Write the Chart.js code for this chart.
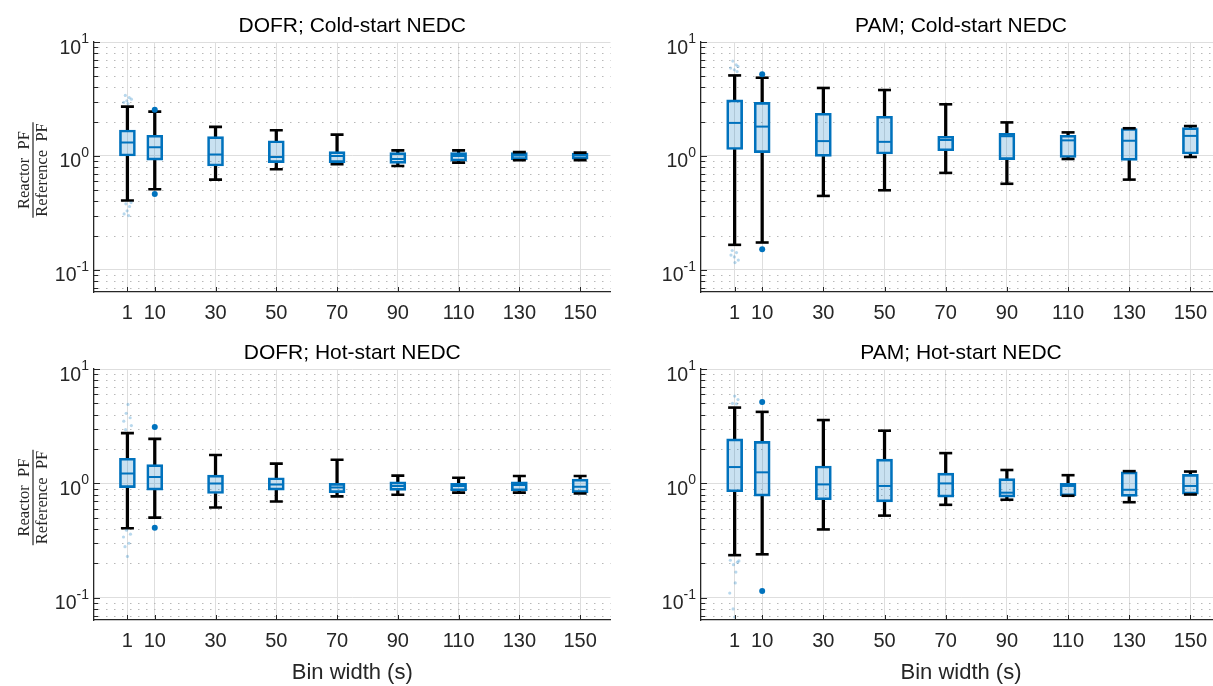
<!DOCTYPE html>
<html>
<head>
<meta charset="utf-8">
<script src="https://cdn.jsdelivr.net/npm/chart.js@4.4.0/dist/chart.umd.min.js"></script>
<style>
  html, body { margin: 0; padding: 0; background: #fff; overflow: hidden; }
  body { width: 1213px; height: 686px; position: relative; }
  canvas { position: absolute; }
</style>
</head>
<body>
<canvas id="dofrCold" width="620" height="345" style="left:0;top:0"></canvas>
<canvas id="pamCold" width="634" height="345" style="left:606px;top:0"></canvas>
<canvas id="dofrHot" width="620" height="341" style="left:0;top:345px"></canvas>
<canvas id="pamHot" width="634" height="341" style="left:606px;top:345px"></canvas>
<script>
// bin widths (s) on the x axis
const binWidths = [1, 10, 30, 50, 70, 90, 110, 130, 150];
const yDecades = [0.1, 1, 10];

// DOFR, cold-start NEDC
const dofrColdLow    = [0.406, 0.51, 0.62, 0.764, 0.845, 0.817, 0.874, 0.916, 0.92];
const dofrColdQ1     = [1.00, 0.92, 0.817, 0.874, 0.874, 0.86, 0.90, 0.93, 0.935];
const dofrColdMedian = [1.31, 1.19, 1.03, 0.98, 1.00, 0.94, 1.00, 1.01, 1.01];
const dofrColdQ3     = [1.69, 1.52, 1.48, 1.36, 1.09, 1.07, 1.07, 1.07, 1.06];
const dofrColdHigh   = [2.71, 2.45, 1.80, 1.68, 1.54, 1.12, 1.12, 1.08, 1.07];
const dofrColdOutliers = [[10, 2.55], [10, 0.464]];
const dofrColdSpread = [[0.3, 3.40], [1.6, 3.25], [0.8, 3.05], [2.3, 3.15], [-0.2, 2.95], [1.2, 2.88],
                        [0.5, 0.38], [1.7, 0.36], [2.2, 0.39], [0.9, 0.33], [-0.1, 0.31], [1.4, 0.30]];

// PAM, cold-start NEDC
const pamColdLow    = [0.166, 0.174, 0.446, 0.50, 0.71, 0.57, 0.94, 0.62, 0.98];
const pamColdQ1     = [1.14, 1.07, 0.99, 1.04, 1.11, 0.93, 0.97, 0.916, 1.04];
const pamColdMedian = [1.95, 1.81, 1.35, 1.33, 1.38, 1.49, 1.37, 1.36, 1.50];
const pamColdQ3     = [3.11, 2.95, 2.37, 2.23, 1.49, 1.58, 1.52, 1.74, 1.77];
const pamColdHigh   = [5.09, 4.86, 3.95, 3.79, 2.84, 1.97, 1.61, 1.75, 1.83];
const pamColdOutliers = [[10, 5.2], [10, 0.152]];
const pamColdSpread = [[0.4, 6.8], [1.5, 6.3], [-0.3, 5.9], [2.1, 6.1], [0.9, 5.7], [1.8, 5.5],
                       [0.2, 0.148], [1.6, 0.142], [0.9, 0.13], [2.2, 0.122], [1.1, 0.116], [-0.2, 0.135]];

// DOFR, hot-start NEDC
const dofrHotLow    = [0.405, 0.502, 0.615, 0.695, 0.77, 0.795, 0.83, 0.83, 0.817];
const dofrHotQ1     = [0.92, 0.873, 0.817, 0.873, 0.83, 0.87, 0.86, 0.86, 0.83];
const dofrHotMedian = [1.22, 1.14, 1.00, 0.98, 0.92, 0.95, 0.95, 0.97, 0.935];
const dofrHotQ3     = [1.66, 1.46, 1.18, 1.12, 1.00, 1.03, 1.00, 1.03, 1.09];
const dofrHotHigh   = [2.75, 2.45, 1.77, 1.49, 1.61, 1.17, 1.12, 1.16, 1.16];
const dofrHotOutliers = [[10, 3.11], [10, 0.41]];
const dofrHotSpread = [[1.2, 4.9], [0.6, 4.1], [1.9, 3.75], [-0.2, 3.5], [2.3, 3.2], [0.4, 2.95],
                       [0.7, 0.39], [2.0, 0.36], [-0.3, 0.34], [1.5, 0.30], [0.2, 0.28], [1.0, 0.23]];

// PAM, hot-start NEDC
const pamHotLow    = [0.236, 0.24, 0.396, 0.523, 0.65, 0.72, 0.78, 0.685, 0.80];
const pamHotQ1     = [0.845, 0.774, 0.72, 0.69, 0.76, 0.76, 0.78, 0.77, 0.805];
const pamHotMedian = [1.39, 1.25, 0.98, 0.95, 1.00, 0.83, 0.95, 0.88, 0.95];
const pamHotQ3     = [2.45, 2.33, 1.42, 1.63, 1.23, 1.10, 1.00, 1.26, 1.20];
const pamHotHigh   = [4.60, 4.22, 3.58, 2.89, 1.84, 1.31, 1.18, 1.28, 1.27];
const pamHotOutliers = [[10, 5.16], [10, 0.1145]];
const pamHotSpread = [[1.0, 5.8], [2.1, 5.4], [0.3, 5.0], [1.6, 4.95],
                      [-0.4, 0.213], [1.9, 0.205], [0.6, 0.195], [2.4, 0.21], [1.4, 0.168],
                      [1.2, 0.135], [-0.6, 0.11], [0.5, 0.08], [1.0, 0.068]];

const SANS = '"Liberation Sans", Arial, sans-serif';
const SERIF = '"Liberation Serif", "Times New Roman", serif';
const BLUE = '#0072BD';
const AXIS = '#262626';

// minor dotted grid, inward ticks, superscript y labels, panel title, fraction y label
const decor = {
  id: 'decor',
  beforeDatasetsDraw(chart, args, o) {
    const {ctx, chartArea: a, scales: {y}} = chart;
    ctx.save();
    ctx.strokeStyle = '#b8b8b8';
    ctx.lineWidth = 1;
    ctx.setLineDash([1.5, 6.5]);
    for (const d of [0.01, 0.1, 1]) {
      for (let k = 2; k <= 9; k++) {
        const v = k * d;
        if (v < y.min || v > y.max) continue;
        const py = Math.round(y.getPixelForValue(v)) + 0.5;
        ctx.beginPath();
        ctx.moveTo(a.left + 4, py);
        ctx.lineTo(a.right, py);
        ctx.stroke();
      }
    }
    ctx.restore();
  },
  afterDraw(chart, args, o) {
    const {ctx, chartArea: a, scales: {x, y}} = chart;
    ctx.save();
    ctx.strokeStyle = AXIS;
    ctx.lineWidth = 1;
    // y ticks, pointing into the axes
    for (const d of [0.01, 0.1, 1, 10]) {
      for (let k = 1; k <= 9; k++) {
        const v = k * d;
        if (v < y.min || v > y.max + 1e-9) continue;
        const py = Math.round(y.getPixelForValue(v)) + 0.5;
        ctx.beginPath();
        ctx.moveTo(a.left, py);
        ctx.lineTo(a.left + (k === 1 ? 6 : 4), py);
        ctx.stroke();
      }
    }
    // x ticks
    binWidths.forEach(v => {
      const px = Math.round(x.getPixelForValue(v)) + 0.5;
      ctx.beginPath();
      ctx.moveTo(px, a.bottom);
      ctx.lineTo(px, a.bottom - 5);
      ctx.stroke();
    });
    // 10^n labels
    ctx.fillStyle = AXIS;
    ctx.textBaseline = 'alphabetic';
    yDecades.forEach(v => {
      const py = y.getPixelForValue(v);
      const exp = String(Math.round(Math.log10(v)));
      ctx.font = '14px ' + SANS;
      const ew = ctx.measureText(exp).width;
      const xe = a.left - 5 - ew;
      ctx.textAlign = 'left';
      ctx.fillText(exp, xe, py + 1);
      ctx.font = '19.5px ' + SANS;
      ctx.textAlign = 'right';
      ctx.fillText('10', xe, py + 11.5);
    });
    // panel title
    ctx.fillStyle = '#000';
    ctx.font = '21px ' + SANS;
    ctx.textAlign = 'center';
    ctx.fillText(o.title, (a.left + a.right) / 2, a.top - 10);
    // ratio label on the left-hand panels
    if (o.ratioLabel) {
      ctx.translate(33, (a.top + a.bottom) / 2 + 3);
      ctx.rotate(-Math.PI / 2);
      ctx.fillStyle = AXIS;
      ctx.font = '16.5px ' + SERIF;
      ctx.fillText('Reactor\u2002PF', 0, -4.5);
      ctx.fillText('Reference\u2002PF', 0, 14);
      const w = ctx.measureText('Reference\u2002PF').width + 2;
      ctx.fillRect(-w / 2, -0.6, w, 1.2);
    }
    ctx.restore();
  }
};

function pts(xs, ys) {
  return xs.map((x, i) => ({x: x, y: ys[i]}));
}

function boxPanel(id, s, o) {
  const caps = pts(binWidths, s.low).concat(pts(binWidths, s.high));
  new Chart(document.getElementById(id), {
    type: 'scatter',
    data: {
      datasets: [
        { data: s.outliers.map(p => ({x: p[0], y: p[1]})), pointRadius: 3,
          pointBackgroundColor: BLUE, pointBorderWidth: 0, order: 0 },
        { data: s.spread.map(p => ({x: p[0], y: p[1]})), pointRadius: 1.6,
          pointBackgroundColor: 'rgba(0,114,189,0.28)', pointBorderWidth: 0, order: 0 },
        { data: pts(binWidths, s.median), pointStyle: 'line', pointRadius: 7.5,
          pointBorderColor: BLUE, pointBorderWidth: 2, order: 1 },
        { data: caps, pointStyle: 'line', pointRadius: 6.5,
          pointBorderColor: '#000', pointBorderWidth: 2.6, order: 2 },
        { type: 'bar', data: binWidths.map((x, i) => ({x: x, y: [s.q1[i], s.q3[i]]})),
          barThickness: 16, grouped: false, borderSkipped: false, borderWidth: 2,
          borderColor: BLUE, backgroundColor: 'rgba(0,114,189,0.21)', order: 3 },
        { type: 'bar', data: binWidths.map((x, i) => ({x: x, y: [s.q3[i], s.high[i]]})),
          barThickness: 2.6, grouped: false, borderWidth: 0, backgroundColor: '#000', order: 4 },
        { type: 'bar', data: binWidths.map((x, i) => ({x: x, y: [s.low[i], s.q1[i]]})),
          barThickness: 2.6, grouped: false, borderWidth: 0, backgroundColor: '#000', order: 4 }
      ]
    },
    options: {
      responsive: false,
      animation: false,
      events: [],
      layout: { padding: o.pad },
      plugins: {
        legend: { display: false },
        tooltip: { enabled: false },
        decor: { title: o.title, ratioLabel: o.ratioLabel }
      },
      scales: {
        x: {
          type: 'linear', min: -10, max: 160, offset: false,
          afterBuildTicks: axis => { axis.ticks = binWidths.map(v => ({value: v})); },
          afterFit: axis => { axis.height = o.xHeight; },
          grid: { color: '#dedede', drawTicks: false, offset: false },
          border: { color: AXIS, width: 1.3 },
          ticks: { autoSkip: false, maxRotation: 0, padding: 9, color: AXIS,
                   font: { family: SANS, size: 20 }, callback: v => String(v) },
          title: { display: o.binTitle, text: 'Bin width (s)', color: AXIS,
                   font: { family: SANS, size: 22 }, padding: { top: 0, bottom: 0 } }
        },
        y: {
          type: 'logarithmic', min: 0.064, max: 10,
          afterBuildTicks: axis => { axis.ticks = yDecades.map(v => ({value: v})); },
          afterFit: axis => { axis.width = 60; },
          grid: { color: '#dedede', drawTicks: false },
          border: { color: AXIS, width: 1.3 },
          ticks: { display: false }
        }
      }
    },
    plugins: [decor]
  });
}

boxPanel('dofrCold', {
  low: dofrColdLow, q1: dofrColdQ1, median: dofrColdMedian, q3: dofrColdQ3, high: dofrColdHigh,
  outliers: dofrColdOutliers, spread: dofrColdSpread
}, { title: 'DOFR; Cold-start NEDC', ratioLabel: true, binTitle: false, xHeight: 53,
     pad: { left: 34, right: 5, top: 42, bottom: 0 } });

boxPanel('pamCold', {
  low: pamColdLow, q1: pamColdQ1, median: pamColdMedian, q3: pamColdQ3, high: pamColdHigh,
  outliers: pamColdOutliers, spread: pamColdSpread
}, { title: 'PAM; Cold-start NEDC', ratioLabel: false, binTitle: false, xHeight: 53,
     pad: { left: 35, right: 19, top: 42, bottom: 0 } });

boxPanel('dofrHot', {
  low: dofrHotLow, q1: dofrHotQ1, median: dofrHotMedian, q3: dofrHotQ3, high: dofrHotHigh,
  outliers: dofrHotOutliers, spread: dofrHotSpread
}, { title: 'DOFR; Hot-start NEDC', ratioLabel: true, binTitle: true, xHeight: 66,
     pad: { left: 34, right: 5, top: 24, bottom: 0 } });

boxPanel('pamHot', {
  low: pamHotLow, q1: pamHotQ1, median: pamHotMedian, q3: pamHotQ3, high: pamHotHigh,
  outliers: pamHotOutliers, spread: pamHotSpread
}, { title: 'PAM; Hot-start NEDC', ratioLabel: false, binTitle: true, xHeight: 66,
     pad: { left: 35, right: 19, top: 24, bottom: 0 } });
</script>
</body>
</html>
